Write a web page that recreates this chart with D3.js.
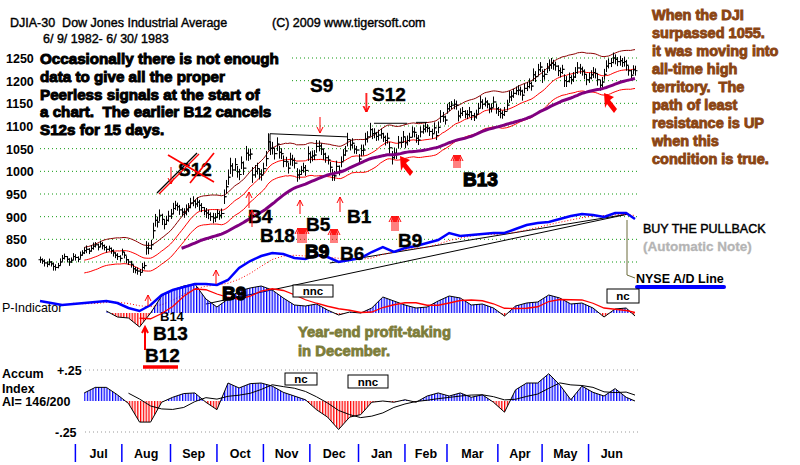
<!DOCTYPE html>
<html>
<head>
<meta charset="utf-8">
<script src="https://cdn.jsdelivr.net/npm/d3@7"></script>
<style>
body { margin: 0; background: #fff; }
svg { display: block; font-family: "Liberation Sans", Arial, sans-serif; }
</style>
</head>
<body>
<div id="chart"></div>
<script>
// ---- data (trading days 6/9/1982 .. 6/30/1983) ----
const monthLabels = ["Jul","Aug","Sep","Oct","Nov","Dec","Jan","Feb","Mar","Apr","May","Jun"];
const monthStarts = [16,37,59,80,101,122,144,165,184,207,227,248];   // index of first trading day
const priceTicks = [800,850,900,950,1000,1050,1100,1150,1200,1250];

const closes = [
  805,802,798,795,800,796,790,788,792,800,808,812,806,800,804,812,
  810,806,815,820,825,828,824,830,835,838,833,840,836,832,828,830,825,820,815,812,808,
  822,815,805,800,795,785,782,780,777,788,792,831,830,838,869,892,888,903,894,883,892,901,
  906,918,925,922,915,910,908,915,920,930,934,928,932,925,920,912,908,905,900,897,898,
  907,903,907,944,966,987,1012,1003,1015,999,993,1019,1007,1040,1036,1038,992,1000,1006,994,992,
  1006,1028,1065,1051,1051,1039,1060,1042,1039,1022,1021,1007,1027,1024,1018,992,993,1002,1008,1002,1039,
  1031,1034,1036,1055,1056,1049,1038,1030,1025,1009,992,990,1011,1002,1021,1036,1045,1070,1058,1062,1049,1047,
  1027,1046,1047,1071,1076,1092,1083,1084,1077,1080,1083,1075,1068,1073,1052,1030,1040,1038,1064,1064,1076,
  1063,1068,1075,1087,1086,1073,1069,1087,1093,1097,1095,1088,1083,1096,1079,1097,1121,1120,1113,
  1138,1143,1146,1148,1146,1122,1128,1132,1126,1125,1131,1123,1120,1126,1139,1153,1148,1153,1148,1139,1140,1153,1138,
  1132,1128,1125,1132,1146,1164,1166,1172,1178,1179,1177,1168,1183,1187,1194,1188,1213,1209,1224,1230,
  1210,1214,1228,1234,1238,1235,1232,1222,1218,1225,1200,1198,1207,1202,1208,1218,1228,1226,1221,1214,1202,
  1206,1213,1218,1216,1202,1190,1197,1214,1232,1238,1240,1250,1247,1242,1244,1240,1242,1234,1222,1212,1224,1222
];
const ranges = [
  14,12,16,13,15,12,18,14,12,16,15,13,14,17,12,15,
  14,13,16,12,15,17,13,14,16,12,15,14,16,13,15,12,14,16,13,15,14,
  15,14,16,13,15,18,14,16,15,20,17,30,26,22,35,28,24,26,25,22,20,24,
  22,25,20,18,22,19,21,24,20,23,22,19,21,24,20,18,22,21,19,23,20,
  18,20,22,32,30,34,36,30,28,26,25,28,30,32,26,24,35,28,26,24,25,
  26,34,38,30,28,26,30,28,24,26,22,24,28,25,24,30,22,20,22,24,32,
  26,24,22,28,24,26,25,22,20,24,26,22,25,22,24,26,22,30,24,22,20,18,
  22,26,24,28,25,30,24,22,20,24,22,20,22,24,26,30,25,22,28,24,26,
  24,22,20,24,22,20,22,24,20,22,18,20,22,24,20,26,28,22,20,
  22,20,18,22,20,24,22,20,18,20,22,20,18,20,24,26,22,20,18,22,20,24,22,
  20,22,18,20,24,26,22,20,18,22,20,24,22,20,22,20,28,24,26,22,
  30,24,22,26,24,22,20,24,22,20,28,24,22,20,22,24,26,22,20,22,24,
  22,20,24,22,26,24,22,24,26,22,20,24,22,20,22,20,22,24,22,24,20,22
];

// weekly readings (trading-day index)
const sampleIdx = [0,5,10,15,20,25,30,35,40,45,50,55,60,65,70,75,80,85,90,95,100,105,110,115,120,125,130,135,140,145,
  150,155,160,165,170,175,180,185,190,195,200,205,210,215,220,225,230,235,240,245,250,255,260,265,269];
const adLine = [12,10,8,9,10,11,12,10,5,2, 8,18,23,26,29,29,28,33,45,52, 57,60,59,55,54,58,56,51,53,55,
  61,66,61,65,67,70,73,80,77,78, 79,80,80,84,88,90,91,94,97,99, 98,96,100,100,94];
const pIndicator = [null,null,null,null,null,null,
  2,-4,-5,-14,0,17,23,27,29,14, 6,14,22,25,27,23,15,8,7,9, 3,-2,1,0,5,16,12,8,5,6,
  12,17,15,8,9,5,-3,7,10,11, 18,15,9,10,5,-4,4,5,-3];
const accumIndex = [null,null,null,null,
  0.065,0.11,0.11,0.05,-0.02,-0.17,-0.17,-0.01,0.03,0.06, 0.065,-0.01,-0.07,0.145,0.105,0.14,0.145,0.12,0.07,0.04,
  0.01,-0.07,-0.13,-0.23,-0.13,-0.11,-0.01,0.0,-0.01,0.01, -0.01,0.04,0.065,0.04,0.065,0.03,0.05,-0.01,-0.09,0.09,
  0.145,0.145,0.22,0.13,0.01,0.12,0.07,0.04,0.10,0.03,0.0];

// A/D trend lines [idx0, ad0, idx1, ad1]
const adTrends = [[75,9,266,99],[131,50,266,99]];
// resistance lines on price [idx0, price0, idx1, price1]
const resistance = [[104,1047,104,1083],[104,1083,139,1076],[151,1106,166,1106],[170,1108,175,1108]];

// ---- scales ----
const W = 800, H = 465;
const x = d3.scaleLinear().domain([0, closes.length - 1]).range([40, 635]);
const yP = d3.scaleLinear().domain([800, 1250]).range([262, 58]);
const yAD = d3.scaleLinear().domain([0, 100]).range([313, 213]);
const yPI = d3.scaleLinear().domain([-30, 30]).range([343, 283]);
const yAI = d3.scaleLinear().domain([-0.25, 0.25]).range([432, 370]);

function movingAvg(arr, n) {
  return arr.map((d, i) => {
    if (i < n - 1) return null;
    const w = arr.slice(i - n + 1, i + 1);
    if (w.some(v => v == null)) return null;
    return d3.mean(w);
  });
}
const ma21 = movingAvg(closes, 21);
const ma65 = movingAvg(closes, 65);
const upper = ma21.map(d => d == null ? null : d * 1.035);
const lower = ma21.map(d => d == null ? null : d * 0.965);

const svg = d3.select("#chart").append("svg").attr("width", W).attr("height", H);
const defs = svg.append("defs");
function hatch(id, color) {
  const p = defs.append("pattern").attr("id", id).attr("patternUnits", "userSpaceOnUse")
    .attr("width", 2.8).attr("height", 10);
  p.append("rect").attr("width", 1.3).attr("height", 10).attr("fill", color);
}
hatch("hBlue", "#0000ff");
hatch("hRed", "#ff0000");
function clip(id, y0, y1) {
  defs.append("clipPath").attr("id", id).append("rect")
    .attr("x", 0).attr("y", y0).attr("width", W).attr("height", y1 - y0);
}
clip("piUp", 270, yPI(0));
clip("piDn", yPI(0), 350);
clip("aiUp", 360, yAI(0));
clip("aiDn", yAI(0), 440);

// ---- gridlines ----
svg.append("g").selectAll("line").data(priceTicks).join("line")
  .attr("x1", 40).attr("x2", 640)
  .attr("y1", d => yP(d)).attr("y2", d => yP(d))
  .attr("stroke", "#119911").attr("stroke-width", 1).attr("stroke-dasharray", "1,3");
svg.append("g").selectAll("line").data([0.25, -0.25]).join("line")
  .attr("x1", 85).attr("x2", 640)
  .attr("y1", d => yAI(d)).attr("y2", d => yAI(d))
  .attr("stroke", "#999").attr("stroke-width", 1).attr("stroke-dasharray", "1,3");

// white box behind the note
svg.append("rect").attr("x", 38).attr("y", 47).attr("width", 254).attr("height", 93).attr("fill", "#fff");

// ---- y labels ----
svg.append("g").selectAll("text").data(priceTicks).join("text")
  .attr("x", 6).attr("y", d => yP(d) + 5)
  .attr("font-size", 12.5).attr("font-weight", "bold").text(d => d);

// ---- bands and moving averages ----
const lineGen = yFn => d3.line().defined(d => d != null).x((d, i) => x(i)).y(d => yFn(d));
svg.append("path").attr("d", lineGen(yP)(upper)).attr("fill", "none").attr("stroke", "#8b0000").attr("stroke-width", 1);
svg.append("path").attr("d", lineGen(yP)(ma21)).attr("fill", "none").attr("stroke", "#ff0000").attr("stroke-width", 1);
svg.append("path").attr("d", lineGen(yP)(lower)).attr("fill", "none").attr("stroke", "#ff0000").attr("stroke-width", 1);

// ---- price bars ----
const bars = svg.append("g").attr("stroke", "#000").attr("stroke-width", 1);
closes.forEach((c, i) => {
  const xi = Math.round(x(i)) + 0.5;
  bars.append("line").attr("x1", xi).attr("x2", xi)
    .attr("y1", yP(c - ranges[i] / 2)).attr("y2", yP(c + ranges[i] / 2));
  bars.append("line").attr("x1", xi).attr("x2", xi + 2).attr("y1", yP(c)).attr("y2", yP(c));
  const o = i > 0 ? closes[i - 1] : c;
  bars.append("line").attr("x1", xi - 2).attr("x2", xi).attr("y1", yP(o)).attr("y2", yP(o));
});
svg.append("path").attr("d", lineGen(yP)(ma65)).attr("fill", "none")
  .attr("stroke", "#800080").attr("stroke-width", 3);

svg.append("g").selectAll("line").data(resistance).join("line")
  .attr("x1", d => x(d[0])).attr("y1", d => yP(d[1]))
  .attr("x2", d => x(d[2])).attr("y2", d => yP(d[3]))
  .attr("stroke", "#000").attr("stroke-width", 1);

// ---- A/D line ----
const sLine = yFn => d3.line().defined(d => d[1] != null).x(d => x(d[0])).y(d => yFn(d[1]));
const adPts = sampleIdx.map((k, i) => [k, adLine[i]]);
const adMA = movingAvg(adLine, 4);
svg.append("g").selectAll("line").data(adTrends).join("line")
  .attr("x1", d => x(d[0])).attr("y1", d => yAD(d[1]))
  .attr("x2", d => x(d[2])).attr("y2", d => yAD(d[3]))
  .attr("stroke", "#000").attr("stroke-width", 1);
svg.append("path").attr("d", sLine(yAD)(sampleIdx.map((k, i) => [k, adMA[i]])))
  .attr("fill", "none").attr("stroke", "#ff0000").attr("stroke-width", 1).attr("stroke-dasharray", "1,2");

// ---- P-Indicator ----
svg.append("text").attr("x", 160).attr("y", 321).attr("font-size", 13).attr("font-weight", "bold").text("B14");
const piPts = sampleIdx.map((k, i) => [k, pIndicator[i]]);
const piArea = d3.area().defined(d => d[1] != null).x(d => x(d[0])).y0(yPI(0)).y1(d => yPI(d[1]));
svg.append("path").attr("d", piArea(piPts)).attr("fill", "url(#hBlue)").attr("clip-path", "url(#piUp)");
svg.append("path").attr("d", piArea(piPts)).attr("fill", "url(#hRed)").attr("clip-path", "url(#piDn)");
svg.append("path").attr("d", sLine(yPI)(piPts)).attr("fill", "none").attr("stroke", "#000").attr("stroke-width", 1);
const piMA = movingAvg(pIndicator, 4);
svg.append("path").attr("d", sLine(yPI)(sampleIdx.map((k, i) => [k, piMA[i]])))
  .attr("fill", "none").attr("stroke", "#ff0000").attr("stroke-width", 1.3);

svg.append("text").attr("x", 2).attr("y", 312).attr("font-size", 12.5).text("P-Indicator");
svg.append("path").attr("d", sLine(yAD)(adPts)).attr("fill", "none")
  .attr("stroke", "#0000ff").attr("stroke-width", 2.5);

// ---- Accum index ----
const aiPts = sampleIdx.map((k, i) => [k, accumIndex[i]]);
const aiArea = d3.area().defined(d => d[1] != null).x(d => x(d[0])).y0(yAI(0)).y1(d => yAI(d[1]));
svg.append("path").attr("d", aiArea(aiPts)).attr("fill", "url(#hBlue)").attr("clip-path", "url(#aiUp)");
svg.append("path").attr("d", aiArea(aiPts)).attr("fill", "url(#hRed)").attr("clip-path", "url(#aiDn)");
svg.append("path").attr("d", sLine(yAI)(aiPts)).attr("fill", "none").attr("stroke", "#000").attr("stroke-width", 1);
const aiMA = movingAvg(accumIndex, 5);
svg.append("path").attr("d", sLine(yAI)(sampleIdx.map((k, i) => [k, aiMA[i]])))
  .attr("fill", "none").attr("stroke", "#000").attr("stroke-width", 1);

// ---- month axis ----
svg.append("g").selectAll("line").data(monthStarts).join("line")
  .attr("x1", d => x(d)).attr("x2", d => x(d)).attr("y1", 444).attr("y2", 462)
  .attr("stroke", "#0000ff").attr("stroke-width", 1.5);
const ends = monthStarts.slice(1).concat([closes.length - 1]);
svg.append("g").selectAll("text").data(monthLabels).join("text")
  .attr("x", (d, i) => (x(monthStarts[i]) + x(ends[i])) / 2).attr("y", 458)
  .attr("text-anchor", "middle").attr("font-size", 12.5).attr("font-weight", "bold").text(d => d);

// ---- text ----
function txt(t, px, py, size, opts = {}) {
  const e = svg.append("text").attr("x", px).attr("y", py).attr("font-size", size)
    .attr("font-weight", opts.weight || "bold").attr("fill", opts.fill || "#000")
    .style("white-space", "pre").text(t);
  if (opts.stroke) e.attr("stroke", opts.fill || "#000").attr("stroke-width", opts.stroke).attr("paint-order", "stroke");
  return e;
}
txt("DJIA-30  Dow Jones Industrial Average", 10, 27, 12.5, {weight: "normal", stroke: 0.4});
txt("(C) 2009 www.tigersoft.com", 272, 27, 12.5, {weight: "normal", stroke: 0.4});
txt("6/ 9/ 1982- 6/ 30/ 1983", 43, 43, 12.5, {weight: "normal", stroke: 0.4});

["Occasionally there is not enough", "data to give all the proper", "Peerless signals at the start of",
 "a chart.  The earlier B12 cancels", "S12s for 15 days."]
  .forEach((t, i) => txt(t, 40, 64 + i * 17.8, 15.2, {stroke: 1}));

["When the DJI", "surpassed 1055.", "it was moving into", "all-time high", "territory.  The",
 "path of least", "resistance is UP", "when this", "condition is true."]
  .forEach((t, i) => txt(t, 652, 20 + i * 18, 14.5, {fill: "#8b4513", stroke: 0.9}));

txt("Year-end profit-taking", 298, 337, 14.8, {fill: "#7d7d3a", stroke: 0.8});
txt("in December.", 298, 356, 14.8, {fill: "#7d7d3a", stroke: 0.8});

txt("BUY THE PULLBACK", 643, 233, 12.5, {weight: "normal", stroke: 0.45});
txt("(Automatic Note)", 643, 251, 13.5, {fill: "#b4b4b4", stroke: 0.3});
svg.append("polyline").attr("points", "627,220 627,275 635,278").attr("fill", "none")
  .attr("stroke", "#6b6b3a").attr("stroke-width", 1);
txt("NYSE A/D Line", 636, 283, 12.5);
svg.append("line").attr("x1", 637).attr("x2", 724).attr("y1", 287).attr("y2", 287)
  .attr("stroke", "#0000ff").attr("stroke-width", 4).attr("stroke-linecap", "round");

txt("Accum", 2, 378, 12.5);
txt("Index", 2, 393, 12.5);
txt("AI= 146/200", 2, 406, 12.5);
txt("+.25", 57, 375, 12.5);
txt("-.25", 55, 437, 12.5);

// signal labels (the doubled ones are drawn heavier instead of twice)
[["S9",310,92,0.4],["S12",372,101,0.4],["S12",178,176,0.4],["B4",248,223,0.4],["B5",306,231,0.4],["B1",347,223,0.4],
 ["B18",260,242,0.4],["B9",305,258,1.3],["B6",340,260,0.4],["B9",398,247,0.4],["B13",463,186,1.3],
 ["B9",222,300,1.3],["B13",153,340,0.4],["B12",145,362,0.4]]
  .forEach(d => txt(d[0], d[1], d[2], 19, {stroke: d[3]}));
svg.append("line").attr("x1", 143).attr("x2", 178).attr("y1", 367).attr("y2", 367)
  .attr("stroke", "#ff0000").attr("stroke-width", 3.5);

// crossed-out S12
svg.append("line").attr("x1", 157).attr("y1", 193).attr("x2", 197).attr("y2", 153).attr("stroke", "#000").attr("stroke-width", 1.2);
svg.append("line").attr("x1", 159).attr("y1", 194).attr("x2", 199).attr("y2", 154).attr("stroke", "#ff0000").attr("stroke-width", 1.2);
svg.append("line").attr("x1", 168).attr("y1", 155).attr("x2", 214).attr("y2", 182).attr("stroke", "#ff0000").attr("stroke-width", 1.6);
svg.append("line").attr("x1", 190).attr("y1", 183).attr("x2", 214).attr("y2", 153).attr("stroke", "#ff0000").attr("stroke-width", 1.6);

// arrows
const arr = svg.append("g").attr("stroke", "#ff0000").attr("fill", "none").attr("stroke-width", 1);
function upArrow(ax, y1, y2, w = 1) {
  arr.append("path").attr("stroke-width", w)
    .attr("d", `M${ax},${y2}V${y1}M${ax - 3},${y1 + 6}L${ax},${y1}L${ax + 3},${y1 + 6}`);
}
function downArrow(ax, y1, y2) {
  arr.append("path").attr("d", `M${ax},${y1}V${y2}M${ax - 3},${y2 - 6}L${ax},${y2}L${ax + 3},${y2 - 6}`);
}
function upCluster(ax, y1, y2, n) { for (let k = 0; k < n; k++) upArrow(ax + k * 2, y1, y2); }
downArrow(366, 93, 112); downArrow(366.8, 93, 112);
downArrow(320, 117, 133);
downArrow(171, 167, 184);
upArrow(249, 192, 208); upArrow(252, 210, 227);
upArrow(300, 200, 214); upArrow(340, 197, 212);
upArrow(216, 270, 284); upArrow(148, 295, 306);
upArrow(145, 327, 350, 2);
upCluster(298, 228, 243, 5); upCluster(331, 229, 243, 4);
upCluster(392, 216, 231, 4); upCluster(454, 155, 168, 4);

// fat pointer arrows
function pointer(px, py) {
  const pts = [[0,0],[10,4],[6,7],[13,16],[10,20],[3,11],[1,15]];
  svg.append("polygon").attr("points", pts.map(p => [px + p[0], py + p[1]].join(",")).join(" "))
    .attr("fill", "#ff0000");
}
pointer(400, 156);
pointer(604, 93);

// nc / nnc boxes
[["nnc",293,285,40,12],["nc",607,289,32,14],["nc",285,373,32,12],["nnc",348,375,40,13]].forEach(d => {
  svg.append("rect").attr("x", d[1]).attr("y", d[2]).attr("width", d[3]).attr("height", d[4])
    .attr("fill", "#fff").attr("stroke", "#000").attr("stroke-width", 1);
  txt(d[0], d[1] + d[3] / 2, d[2] + d[4] / 2 + 4, 11.5).attr("text-anchor", "middle");
});
</script>
</body>
</html>
